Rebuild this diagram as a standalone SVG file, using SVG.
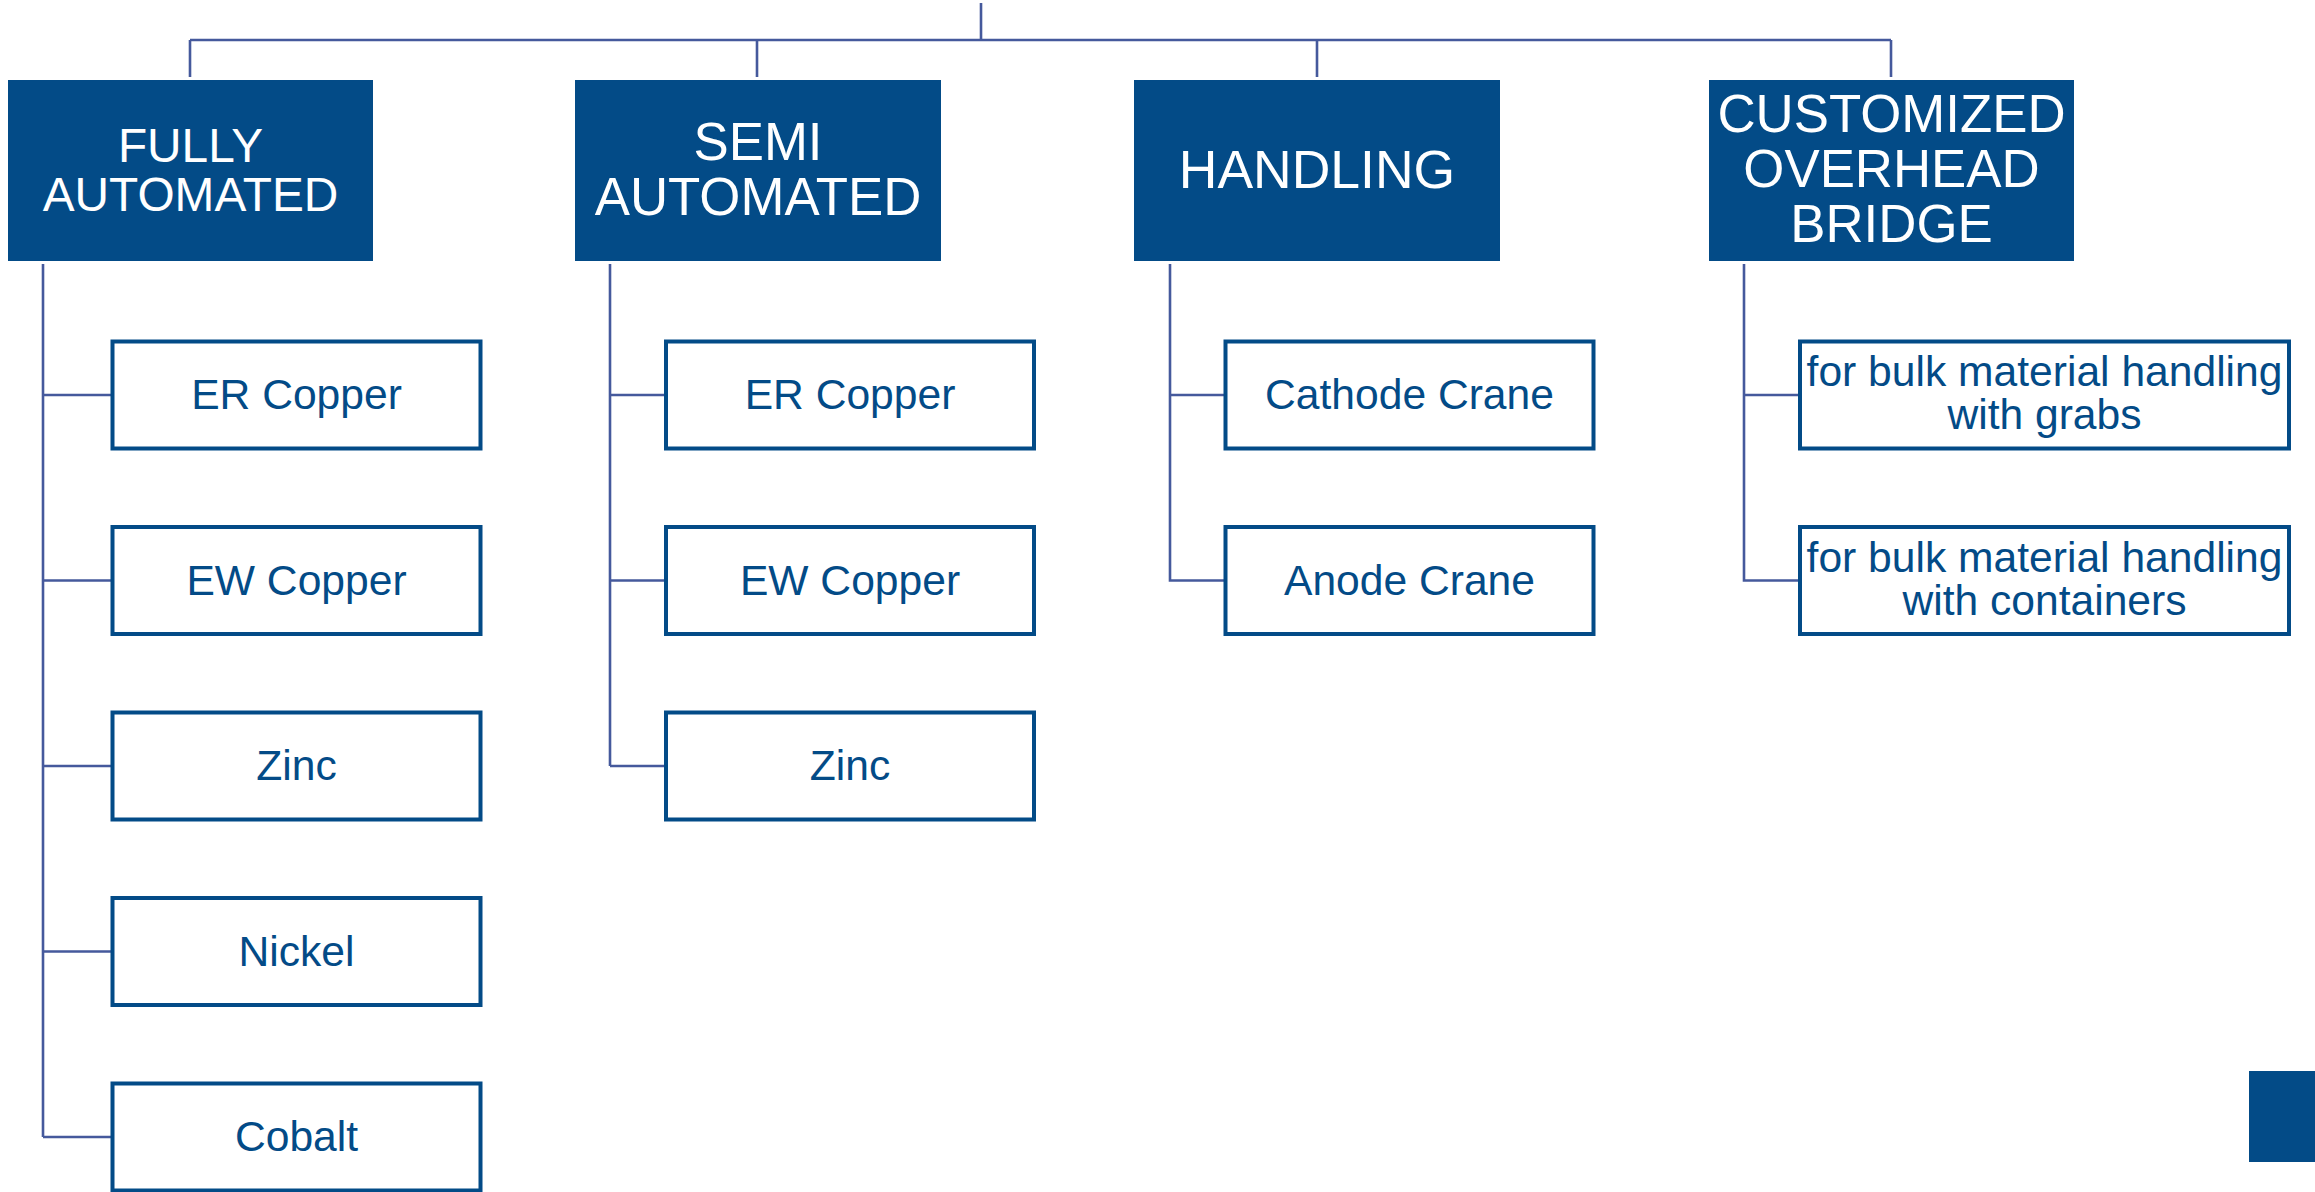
<svg xmlns="http://www.w3.org/2000/svg" width="2315" height="1192" viewBox="0 0 2315 1192">
<style>
.hdr{fill:#034b87;}
.ht{fill:#ffffff;font-family:"Liberation Sans",Arial,sans-serif;text-anchor:middle;}
.box{fill:#ffffff;stroke:#034b87;stroke-width:4;}
.bt{fill:#034b87;font-family:"Liberation Sans",Arial,sans-serif;font-size:42.6px;text-anchor:middle;}
.ln{fill:none;stroke:#45599c;stroke-width:2.6;}
</style>
<rect width="2315" height="1192" fill="#ffffff"/>
<g id="connectors">
<path class="ln" d="M981 3V40M190 40H1891M190 40V77M757 40V77M1317 40V77M1891 40V77"/>
<path class="ln" d="M43 264V1137M43 395H111M43 580.5H111M43 766H111M43 951.5H111M43 1137H111"/>
<path class="ln" d="M610 264V766M610 395H664M610 580.5H664M610 766H664"/>
<path class="ln" d="M1170 264V580.5H1224M1170 395H1224"/>
<path class="ln" d="M1744 264V580.5H1798M1744 395H1798"/>
</g>
<g id="fully-automated">
<rect class="hdr" x="8" y="80" width="365" height="181"/>
<text class="ht" x="190.5" font-size="47.8"><tspan x="190.5" y="162">FULLY</tspan><tspan x="190.5" y="211">AUTOMATED</tspan></text>
</g>
<g id="semi-automated">
<rect class="hdr" x="575" y="80" width="366" height="181"/>
<text class="ht" x="758" font-size="52.8"><tspan x="758" y="160">SEMI</tspan><tspan x="758" y="215">AUTOMATED</tspan></text>
</g>
<g id="handling">
<rect class="hdr" x="1134" y="80" width="366" height="181"/>
<text class="ht" x="1317" y="188" font-size="53.5">HANDLING</text>
</g>
<g id="customized-overhead-bridge">
<rect class="hdr" x="1709" y="80" width="365" height="181"/>
<text class="ht" x="1891.5" font-size="52.8"><tspan x="1891.5" y="131.5">CUSTOMIZED</tspan><tspan x="1891.5" y="186.5">OVERHEAD</tspan><tspan x="1891.5" y="241.5">BRIDGE</tspan></text>
</g>
<g id="fa-er-copper"><rect class="box" x="112.5" y="341.5" width="368" height="107"/><text class="bt" x="296.5" y="409">ER Copper</text></g>
<g id="fa-ew-copper"><rect class="box" x="112.5" y="527" width="368" height="107"/><text class="bt" x="296.5" y="594.5">EW Copper</text></g>
<g id="fa-zinc"><rect class="box" x="112.5" y="712.5" width="368" height="107"/><text class="bt" x="296.5" y="780">Zinc</text></g>
<g id="fa-nickel"><rect class="box" x="112.5" y="898" width="368" height="107"/><text class="bt" x="296.5" y="965.5">Nickel</text></g>
<g id="fa-cobalt"><rect class="box" x="112.5" y="1083.5" width="368" height="107"/><text class="bt" x="296.5" y="1151">Cobalt</text></g>
<g id="sa-er-copper"><rect class="box" x="666" y="341.5" width="368" height="107"/><text class="bt" x="850" y="409">ER Copper</text></g>
<g id="sa-ew-copper"><rect class="box" x="666" y="527" width="368" height="107"/><text class="bt" x="850" y="594.5">EW Copper</text></g>
<g id="sa-zinc"><rect class="box" x="666" y="712.5" width="368" height="107"/><text class="bt" x="850" y="780">Zinc</text></g>
<g id="h-cathode-crane"><rect class="box" x="1225.5" y="341.5" width="368" height="107"/><text class="bt" x="1409.5" y="409">Cathode Crane</text></g>
<g id="h-anode-crane"><rect class="box" x="1225.5" y="527" width="368" height="107"/><text class="bt" x="1409.5" y="594.5">Anode Crane</text></g>
<g id="c-grabs"><rect class="box" x="1800" y="341.5" width="489" height="107"/><text class="bt" x="2044.5"><tspan x="2044.5" y="386">for bulk material handling</tspan><tspan x="2044.5" y="429">with grabs</tspan></text></g>
<g id="c-containers"><rect class="box" x="1800" y="527" width="489" height="107"/><text class="bt" x="2044.5"><tspan x="2044.5" y="571.5">for bulk material handling</tspan><tspan x="2044.5" y="614.5">with containers</tspan></text></g>
<rect class="hdr" x="2249" y="1071" width="66" height="91"/>
</svg>
